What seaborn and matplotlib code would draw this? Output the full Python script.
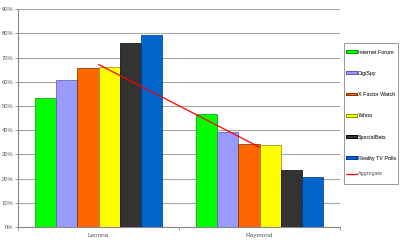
import matplotlib
matplotlib.use("Agg")
import matplotlib.pyplot as plt
import matplotlib.patches as mpatches
import seaborn as sns
import pandas as pd
from matplotlib.lines import Line2D
from matplotlib.ticker import PercentFormatter, MultipleLocator

categories = ["Leonna", "Raymond"]
sources = ["Internet Forum", "DigiSpy", "X Factor Watch", "Yahoo", "SpecialBets", "Reality TV Polls"]
leonna = [0.533, 0.607, 0.658, 0.660, 0.762, 0.793]
raymond = [0.466, 0.391, 0.342, 0.339, 0.237, 0.205]
aggregate = [0.672, 0.330]
colors = ["#00FF00", "#9999FF", "#FF6600", "#FFFF00", "#333333", "#0066CC"]
edges = ["#009900", "#5555AA", "#663300", "#888800", "#000000", "#003399"]

rows = []
for s, a, b in zip(sources, leonna, raymond):
    rows.append({"candidate": categories[0], "source": s, "value": a})
    rows.append({"candidate": categories[1], "source": s, "value": b})
df = pd.DataFrame(rows)

sns.set_style("white")
plt.rcParams["font.family"] = ["Liberation Sans", "DejaVu Sans"]

fig = plt.figure(figsize=(4.0, 2.42), dpi=100)
ax = fig.add_axes([18/400, 1-227/242, (340-18)/400, (227-9.3)/242])

sns.barplot(data=df, x="candidate", y="value", hue="source", order=categories,
            hue_order=sources, palette=colors, width=0.795, saturation=1,
            edgecolor="#222222", linewidth=0.5, ax=ax, legend=False, zorder=3)
for i, cont in enumerate(ax.containers):
    for p in cont:
        p.set_edgecolor(edges[i])

ax.plot(range(len(categories)), aggregate, color="#FF0000", lw=0.9, zorder=5)

ax.set_xlim(-0.5, len(categories) - 0.5)
ax.set_ylim(0, 0.9)
ax.yaxis.set_major_locator(MultipleLocator(0.1))
ax.yaxis.set_major_formatter(PercentFormatter(1.0, decimals=0))
ax.grid(axis="y", color="#a6a6a6", lw=0.8, zorder=0)
ax.set_axisbelow(True)
for s in ["top", "right"]:
    ax.spines[s].set_visible(False)
for s in ["left", "bottom"]:
    ax.spines[s].set_color("#888888")
    ax.spines[s].set_linewidth(0.8)
ax.set_xlabel("")
ax.set_ylabel("")
ax.tick_params(axis="y", labelsize=4.2, colors="#888888", labelcolor="#555555",
               length=2, width=0.6, pad=1.5, left=True)
ax.tick_params(axis="x", labelsize=4.6, labelcolor="#555555", length=0, pad=4)
ax.set_xticks([-0.5, 0.5, 1.5], minor=True)
ax.tick_params(axis="x", which="minor", length=2.5, width=0.6, colors="#888888", bottom=True)

# legend frame drawn in figure coordinates
fig.add_artist(mpatches.Rectangle((344/400, 1-184/242), 53.5/400, 141.5/242,
                                  transform=fig.transFigure, fill=False,
                                  edgecolor="#888888", lw=0.6))

handles = [mpatches.Patch(facecolor=c, edgecolor=e, lw=0.6) for c, e in zip(colors, edges)]
leg = fig.legend(handles, sources, loc="upper left", bbox_to_anchor=(345.5/400, 1-49.5/242),
                 fontsize=3.9, frameon=False,
                 labelspacing=3.0, handlelength=2.1, handleheight=0.42,
                 handletextpad=0.15, borderpad=0, borderaxespad=0)
for t in leg.get_texts():
    t.set_color("#555555")
fig.add_artist(leg)
leg2 = fig.legend([Line2D([0], [0], color="#FF0000", lw=0.9)], ["Aggregate"],
                  loc="upper left", bbox_to_anchor=(345.5/400, 1-171.5/242),
                  fontsize=3.9, frameon=False, handlelength=2.1, handleheight=0.42,
                  handletextpad=0.15, borderpad=0, borderaxespad=0)
for t in leg2.get_texts():
    t.set_color("#555555")

fig.savefig("out.png", dpi=100)
